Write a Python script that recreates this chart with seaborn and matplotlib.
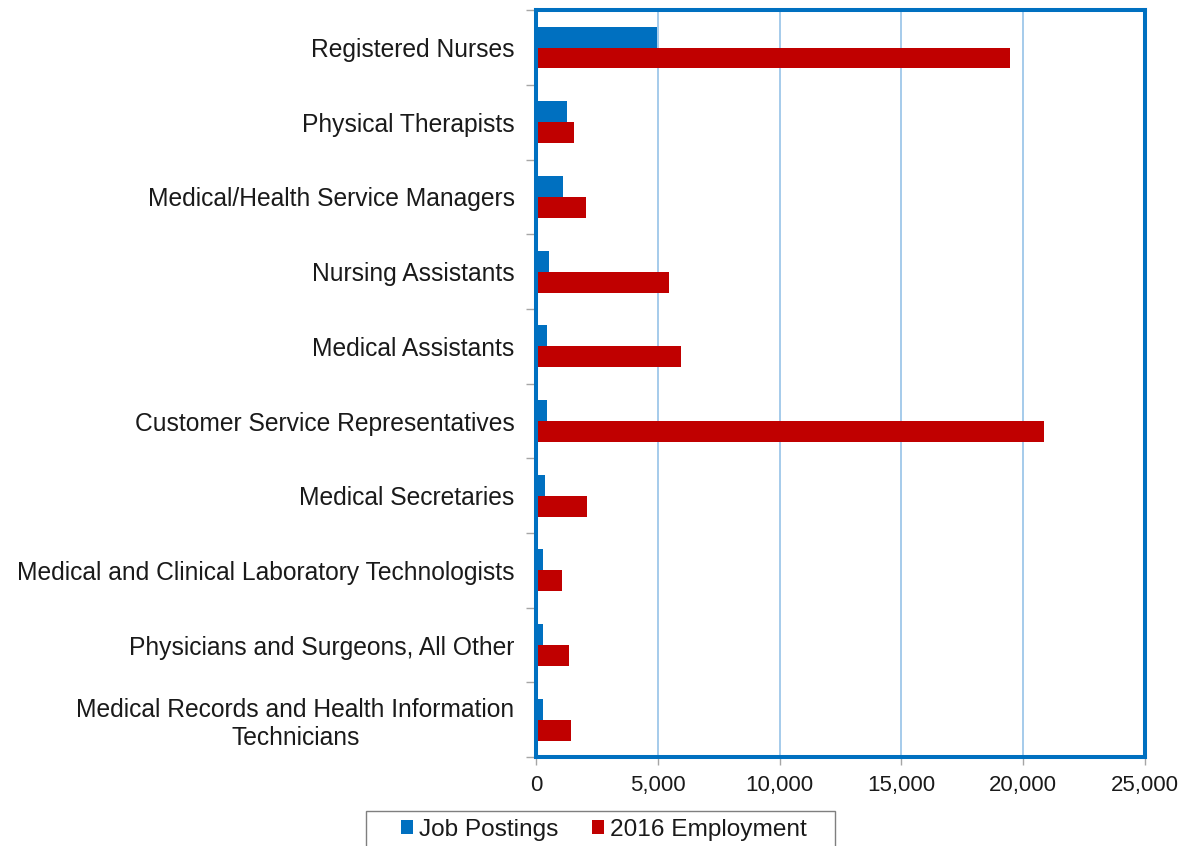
import pandas as pd
import numpy as np
import matplotlib
matplotlib.use("Agg")
import matplotlib.pyplot as plt
import seaborn as sns
from matplotlib.ticker import FuncFormatter, FixedLocator
from matplotlib.patches import Rectangle

# Occupations, top to bottom
occupations = [
    "Registered Nurses",
    "Physical Therapists",
    "Medical/Health Service Managers",
    "Nursing Assistants",
    "Medical Assistants",
    "Customer Service Representatives",
    "Medical Secretaries",
    "Medical and Clinical Laboratory Technologists",
    "Physicians and Surgeons, All Other",
    "Medical Records and Health Information\nTechnicians",
]
job_postings = [4980, 1270, 1100, 530, 440, 440, 370, 300, 300, 300]
employment_2016 = [19460, 1550, 2060, 5460, 5940, 20870, 2100, 1050, 1370, 1430]
series_names = ["Job Postings", "2016 Employment"]
x_ticks = [0, 5000, 10000, 15000, 20000, 25000]

# long form table for seaborn
df = pd.DataFrame({
    "Occupation": occupations * 2,
    "Series": [series_names[0]] * len(occupations) + [series_names[1]] * len(occupations),
    "Value": job_postings + employment_2016,
})

sns.set_style("white")
plt.rcParams["font.family"] = ["Liberation Sans", "DejaVu Sans"]

blue = "#0070C0"
red = "#C00000"

fig = plt.figure(figsize=(11.87, 8.46), dpi=100)
ax = fig.add_axes([0.4516, 0.105, 0.9646 - 0.4516, 0.988 - 0.105])

sns.barplot(data=df, x="Value", y="Occupation", hue="Series", order=occupations,
            hue_order=series_names, palette=[blue, red], orient="h",
            width=0.56, saturation=1, linewidth=0, ax=ax, legend=True)

ax.set_xlim(0, 25000)
ax.set_ylim(len(occupations) - 0.5, -0.5)
ax.set_xlabel("")
ax.set_ylabel("")

# vertical gridlines
ax.xaxis.set_major_locator(FixedLocator(x_ticks))
ax.xaxis.set_major_formatter(FuncFormatter(lambda v, p: f"{int(v):,}"))
ax.grid(axis="x", color="#8DBDE6", linewidth=1.1)
ax.set_axisbelow(True)

for s in ax.spines.values():
    s.set_visible(True)
    s.set_color(blue)
    s.set_linewidth(2.9)

# category boundary ticks on the y axis
ax.yaxis.set_minor_locator(FixedLocator(np.arange(-0.5, len(occupations), 1)))
ax.tick_params(axis="y", which="minor", left=True, length=7, color="#A6A6A6", width=1)
ax.tick_params(axis="y", which="major", left=False, length=0, pad=15.5,
               labelsize=17.7, labelcolor="#1a1a1a")
ax.tick_params(axis="x", which="major", bottom=True, length=6, color="#A6A6A6", width=1,
               pad=7, labelsize=16, labelcolor="#1a1a1a")
for lab in ax.get_yticklabels():
    lab.set_multialignment("center")
    lab.set_linespacing(1.2)

# legend below the plot, frame drawn separately (it runs off the bottom edge)
leg = ax.legend(loc="center left", bbox_to_anchor=(401 / 1187, 1 - 830 / 846),
                bbox_transform=fig.transFigure, ncol=2, frameon=False,
                fontsize=17.6, handlelength=0.5, handleheight=0.5, handletextpad=0.25,
                columnspacing=1.35, borderpad=0, borderaxespad=0)
for t in leg.get_texts():
    t.set_color("#1a1a1a")
fig.patches.append(Rectangle((366 / 1187, -0.02), (835 - 366) / 1187, 0.02 + 1 - 811 / 846,
                             transform=fig.transFigure, fill=False,
                             edgecolor="#7F7F7F", linewidth=1.0))

fig.savefig("out.png", dpi=100)
